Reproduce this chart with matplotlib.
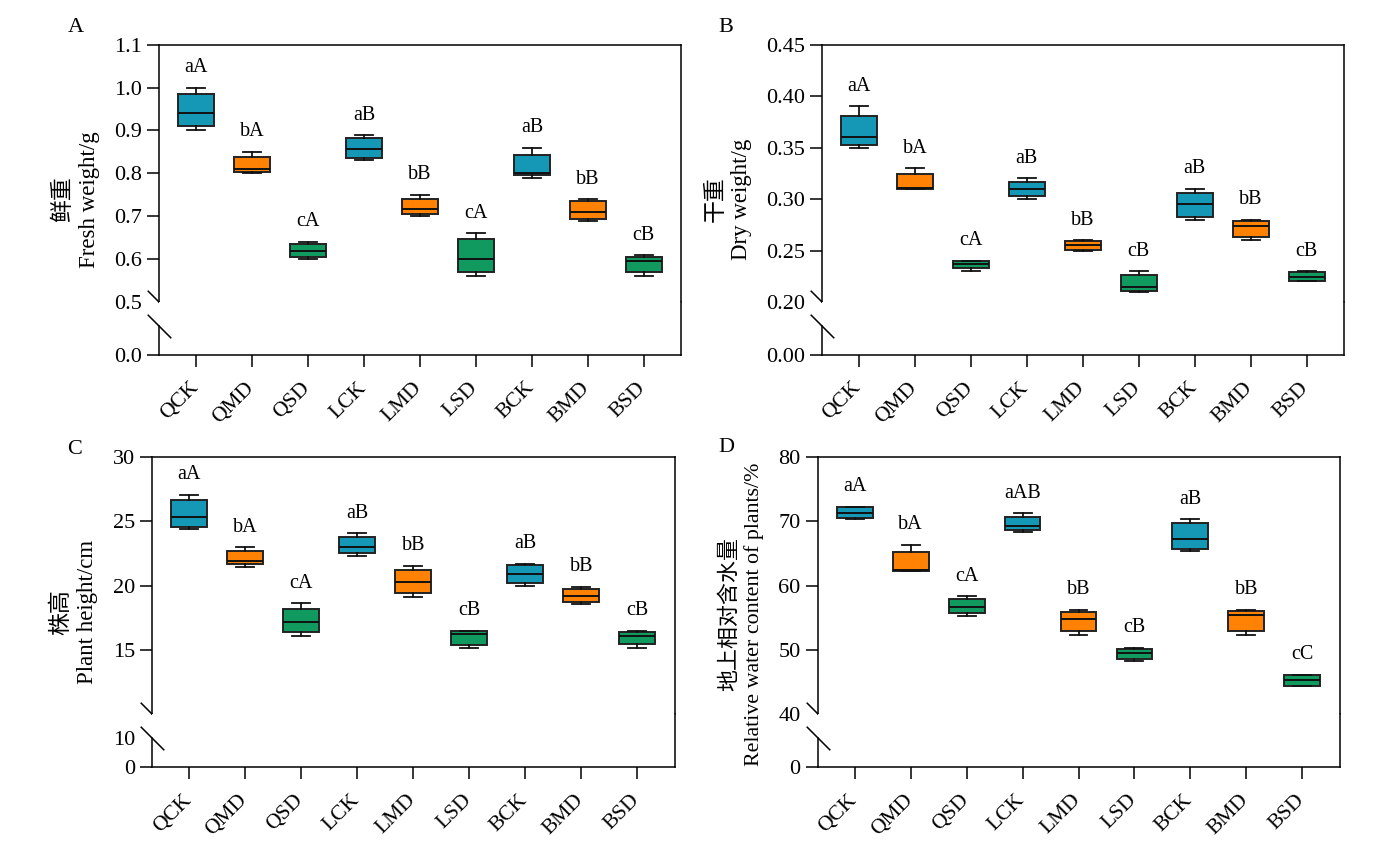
"""Box plots of seedling growth under drought (four panels, broken y axes)."""

import matplotlib
matplotlib.use("Agg")
import matplotlib.pyplot as plt
import matplotlib.transforms as mtransforms

plt.rcParams['font.family'] = ['Liberation Serif', 'Noto Sans CJK SC']

GROUPS = ["QCK", "QMD", "QSD", "LCK", "LMD", "LSD", "BCK", "BMD", "BSD"]
COLORS = ["#1598B6", "#FF8204", "#109A60"] * 3

# A: fresh weight (g)
FRESH_LOW = [0.90, 0.80, 0.60, 0.83, 0.70, 0.56, 0.79, 0.69, 0.56]
FRESH_Q1 = [0.91, 0.804, 0.604, 0.836, 0.705, 0.569, 0.795, 0.694, 0.569]
FRESH_MED = [0.94, 0.811, 0.62, 0.856, 0.716, 0.60, 0.80, 0.711, 0.595]
FRESH_Q3 = [0.985, 0.839, 0.635, 0.882, 0.741, 0.646, 0.843, 0.735, 0.605]
FRESH_HIGH = [1.00, 0.85, 0.64, 0.889, 0.75, 0.66, 0.86, 0.74, 0.609]
FRESH_SIG = ["aA", "bA", "cA", "aB", "bB", "cA", "aB", "bB", "cB"]

# B: dry weight (g)
DRY_LOW = [0.350, 0.310, 0.230, 0.300, 0.250, 0.210, 0.280, 0.260, 0.220]
DRY_Q1 = [0.353, 0.310, 0.233, 0.303, 0.251, 0.211, 0.283, 0.263, 0.220]
DRY_MED = [0.360, 0.311, 0.237, 0.310, 0.255, 0.215, 0.295, 0.274, 0.2245]
DRY_Q3 = [0.381, 0.324, 0.240, 0.317, 0.259, 0.226, 0.306, 0.279, 0.229]
DRY_HIGH = [0.390, 0.330, 0.240, 0.320, 0.260, 0.230, 0.310, 0.280, 0.230]
DRY_SIG = ["aA", "bA", "cA", "aB", "bB", "cB", "aB", "bB", "cB"]

# C: plant height (cm)
HEIGHT_LOW = [24.42, 21.49, 16.09, 22.32, 19.15, 15.18, 19.98, 18.60, 15.18]
HEIGHT_Q1 = [24.60, 21.67, 16.40, 22.53, 19.41, 15.41, 20.19, 18.74, 15.44]
HEIGHT_MED = [25.33, 21.90, 17.18, 23.04, 20.27, 16.20, 20.94, 19.18, 16.09]
HEIGHT_Q3 = [26.65, 22.68, 18.19, 23.82, 21.25, 16.43, 21.57, 19.72, 16.40]
HEIGHT_HIGH = [27.07, 23.00, 18.63, 24.08, 21.54, 16.50, 21.70, 19.93, 16.50]
HEIGHT_SIG = ["aA", "bA", "cA", "aB", "bB", "cB", "aB", "bB", "cB"]

# D: relative water content (%)
WATER_LOW = [70.40, 62.30, 55.25, 68.37, 52.34, 48.29, 65.37, 52.34, 44.30]
WATER_Q1 = [70.50, 62.30, 55.70, 68.69, 52.96, 48.60, 65.68, 52.96, 44.30]
WATER_MED = [71.39, 62.46, 56.75, 69.31, 54.78, 49.54, 67.29, 55.35, 45.28]
WATER_Q3 = [72.20, 65.21, 57.90, 70.71, 55.87, 50.10, 69.72, 56.10, 46.10]
WATER_HIGH = [72.30, 66.35, 58.31, 71.28, 56.23, 50.32, 70.35, 56.23, 46.10]
WATER_SIG = ["aA", "bA", "cA", "aAB", "bB", "cB", "aB", "bB", "cC"]

W, H = 1386, 841
LW = 1.1


def rect(left, right, top, bottom):
    return [left / W, 1 - bottom / H, (right - left) / W, (bottom - top) / H]


def slash(ax, x, y, transform):
    ax.plot([x], [y], transform=transform, marker=[(-1, 1), (1, -1)],
            markersize=17, mec='k', mew=LW, clip_on=False, zorder=5)


def panel(fig, box, letter, letter_xy, ylabel, label_xy, label_size, stats,
          sig, ylim, yticks, yfmt, hide_first, low_top, low_ylim, low_ticks,
          low_labels, hide_low_top):
    left, right, top, brk, bottom = box
    up = fig.add_axes(rect(left, right, top, brk))
    low = fig.add_axes(rect(left, right, brk, bottom))
    lows, q1s, meds, q3s, highs = stats
    bstats = [dict(whislo=a, q1=b, med=c, q3=d, whishi=e)
              for a, b, c, d, e in zip(lows, q1s, meds, q3s, highs)]
    bp = up.bxp(bstats, positions=range(len(GROUPS)), widths=0.64,
                capwidths=0.32, patch_artist=True, showfliers=False,
                boxprops=dict(linewidth=1.4, edgecolor='#222222'),
                medianprops=dict(color='#111111', linewidth=1.4),
                whiskerprops=dict(color='#111111', linewidth=1.3),
                capprops=dict(color='#111111', linewidth=1.3))
    for patch, col in zip(bp['boxes'], COLORS):
        patch.set_facecolor(col)
    for i, s in enumerate(sig):
        up.annotate(s, (i, highs[i]), xytext=(0, 14.4),
                    textcoords='offset points', ha='center', va='center',
                    fontsize=14.5)

    for ax in (up, low):
        ax.set_xlim(-0.665, len(GROUPS) - 1 + 0.665)
        for sp in ax.spines.values():
            sp.set_linewidth(LW)
        ax.tick_params(axis='y', direction='out', length=8.6, width=LW,
                       pad=3.6, labelsize=16)
    up.set_ylim(*ylim)
    up.set_yticks(yticks)
    up.set_yticklabels([yfmt % t for t in yticks])
    if hide_first:
        up.yaxis.get_major_ticks()[0].tick1line.set_visible(False)
    up.spines['bottom'].set_visible(False)
    up.tick_params(axis='x', bottom=False, labelbottom=False)

    low.set_ylim(*low_ylim)
    low.set_yticks(low_ticks)
    low.set_yticklabels(low_labels)
    if hide_low_top:
        low.yaxis.get_major_ticks()[-1].tick1line.set_visible(False)
    low.spines['top'].set_visible(False)
    low.spines['left'].set_bounds(0, low_top)
    low.set_xticks(range(len(GROUPS)))
    low.set_xticklabels(GROUPS, rotation=45, ha='right', va='top')
    low.tick_params(axis='x', direction='out', length=8.6, width=LW,
                    pad=8.5, labelsize=15.5)
    shift = mtransforms.ScaledTranslation(6 / 100, 0, fig.dpi_scale_trans)
    for lab in low.get_xticklabels():
        lab.set_transform(lab.get_transform() + shift)

    slash(up, 0, 0, up.transAxes)
    slash(low, 0, low_top, low.get_yaxis_transform())

    fig.text(letter_xy[0] / W, 1 - letter_xy[1] / H, letter, fontsize=16,
             ha='center', va='center')
    fig.text(label_xy[0] / W, 1 - label_xy[1] / H, ylabel,
             fontsize=label_size, rotation=90, ha='center', va='center',
             multialignment='center', linespacing=1.3)


def main():
    fig = plt.figure(figsize=(W / 100, H / 100), dpi=100)

    panel(fig, (159, 681, 44.7, 302, 354.5), "A", (76, 28),
          "鲜重\nFresh weight/g", (76.5, 199.6), 16.5,
          (FRESH_LOW, FRESH_Q1, FRESH_MED, FRESH_Q3, FRESH_HIGH), FRESH_SIG,
          (0.5, 1.1), [0.5, 0.6, 0.7, 0.8, 0.9, 1.0, 1.1], "%.1f", True,
          0.1, (0, 0.1 / 0.543), [0.0], ["0.0"], False)

    panel(fig, (821.7, 1344, 44.7, 302, 354.5), "B", (726, 28),
          "干重\nDry weight/g", (729, 199.6), 16.5,
          (DRY_LOW, DRY_Q1, DRY_MED, DRY_Q3, DRY_HIGH), DRY_SIG,
          (0.20, 0.45), [0.20, 0.25, 0.30, 0.35, 0.40, 0.45], "%.2f", True,
          0.05, (0, 0.05 / 0.543), [0.0], ["0.00"], False)

    panel(fig, (152, 674.5, 457.3, 714, 767), "C", (75, 450),
          "株高\nPlant height/cm", (74.2, 612), 16.5,
          (HEIGHT_LOW, HEIGHT_Q1, HEIGHT_MED, HEIGHT_Q3, HEIGHT_HIGH),
          HEIGHT_SIG,
          (10, 30), [15, 20, 25, 30], "%d", False,
          10, (0, 10 / 0.547), [0, 10], ["0", "10"], True)

    panel(fig, (817.5, 1339.5, 457.3, 714, 767), "D", (726, 447),
          "地上相对含水量\nRelative water content of plants/%", (741.7, 614),
          15.8,
          (WATER_LOW, WATER_Q1, WATER_MED, WATER_Q3, WATER_HIGH), WATER_SIG,
          (40, 80), [40, 50, 60, 70, 80], "%d", True,
          20, (0, 20 / 0.547), [0], ["0"], False)

    fig.savefig("out.png", dpi=100)


if __name__ == '__main__':
    main()
